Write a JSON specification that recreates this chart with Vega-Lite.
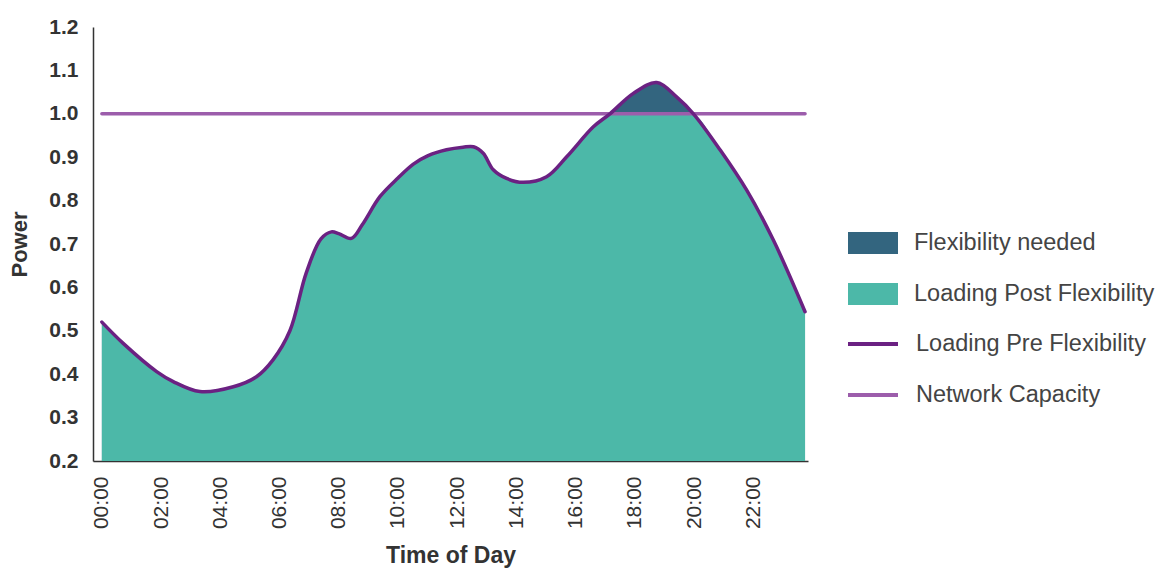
{
  "$schema": "https://vega.github.io/schema/vega-lite/v6.json",
  "autosize": "none",
  "width": 715,
  "height": 434,
  "padding": {"left": 93, "top": 27, "right": 354, "bottom": 108},
  "background": "white",
  "config": {
    "view": {"stroke": null},
    "font": "Liberation Sans",
    "axis": {"grid": false, "ticks": false, "tickSize": 0, "domainColor": "#333333", "domainWidth": 1.5, "labelColor": "#333333", "titleColor": "#333333", "labelFont": "Liberation Sans", "titleFont": "Liberation Sans"},
    "legend": {"labelFont": "Liberation Sans", "labelFontSize": 23.5, "labelColor": "#444444", "labelLimit": 400, "padding": 0, "rowPadding": 14, "labelOffset": 16, "symbolSize": 2500}
  },
  "datasets": {
    "load": [
      {"hour": 0, "pre": 0.52, "post": 0.52},
      {"hour": 0.72, "pre": 0.471, "post": 0.471},
      {"hour": 1.85, "pre": 0.406, "post": 0.406},
      {"hour": 2.41, "pre": 0.383, "post": 0.383},
      {"hour": 3.31, "pre": 0.36, "post": 0.36},
      {"hour": 4.44, "pre": 0.371, "post": 0.371},
      {"hour": 5.22, "pre": 0.394, "post": 0.394},
      {"hour": 5.78, "pre": 0.433, "post": 0.433},
      {"hour": 6.35, "pre": 0.5, "post": 0.5},
      {"hour": 6.9, "pre": 0.633, "post": 0.633},
      {"hour": 7.4, "pre": 0.712, "post": 0.712},
      {"hour": 7.75, "pre": 0.728, "post": 0.728},
      {"hour": 8.0, "pre": 0.724, "post": 0.724},
      {"hour": 8.43, "pre": 0.713, "post": 0.713},
      {"hour": 8.8, "pre": 0.745, "post": 0.745},
      {"hour": 9.39, "pre": 0.809, "post": 0.809},
      {"hour": 10.0, "pre": 0.852, "post": 0.852},
      {"hour": 10.52, "pre": 0.884, "post": 0.884},
      {"hour": 11.0, "pre": 0.903, "post": 0.903},
      {"hour": 11.64, "pre": 0.917, "post": 0.917},
      {"hour": 12.2, "pre": 0.923, "post": 0.923},
      {"hour": 12.55, "pre": 0.924, "post": 0.924},
      {"hour": 12.88, "pre": 0.909, "post": 0.909},
      {"hour": 13.22, "pre": 0.871, "post": 0.871},
      {"hour": 13.67, "pre": 0.851, "post": 0.851},
      {"hour": 14.23, "pre": 0.842, "post": 0.842},
      {"hour": 15.02, "pre": 0.855, "post": 0.855},
      {"hour": 15.7, "pre": 0.901, "post": 0.901},
      {"hour": 16.6, "pre": 0.97, "post": 0.97},
      {"hour": 17.16, "pre": 1.0, "post": 1.0},
      {"hour": 17.95, "pre": 1.047, "post": 1.0},
      {"hour": 18.74, "pre": 1.072, "post": 1.0},
      {"hour": 19.41, "pre": 1.039, "post": 1.0},
      {"hour": 19.98, "pre": 1.0, "post": 1.0},
      {"hour": 20.88, "pre": 0.917, "post": 0.917},
      {"hour": 21.78, "pre": 0.824, "post": 0.824},
      {"hour": 22.68, "pre": 0.709, "post": 0.709},
      {"hour": 23.75, "pre": 0.544, "post": 0.544}
    ],
    "capacity": [
      {"start": 0, "end": 23.75, "cap": 1.0}
    ]
  },
  "layer": [
    {
      "data": {"name": "load"},
      "mark": {"type": "area", "interpolate": "catmull-rom"},
      "encoding": {
        "x": {"field": "hour", "type": "quantitative", "scale": {"domain": [-0.3, 23.85], "nice": false, "zero": false},
          "axis": {"values": [0, 2, 4, 6, 8, 10, 12, 14, 16, 18, 20, 22], "labelExpr": "(datum.value < 10 ? '0' : '') + datum.value + ':00'", "labelAngle": 270, "labelFontSize": 21, "labelPadding": 15, "title": "Time of Day", "titleFontSize": 23, "titleFontWeight": "bold", "titlePadding": 16}},
        "y": {"field": "pre", "type": "quantitative", "scale": {"domain": [0.2, 1.2], "nice": false, "zero": false},
          "axis": {"values": [0.2, 0.3, 0.4, 0.5, 0.6, 0.7, 0.8, 0.9, 1.0, 1.1, 1.2], "format": ".1f", "labelFontSize": 21, "labelFontWeight": "bold", "labelPadding": 15, "title": "Power", "titleFontSize": 22, "titleFontWeight": "bold", "titlePadding": 17}},
        "y2": {"datum": 0.2},
        "fill": {"datum": "Flexibility needed", "type": "nominal",
          "scale": {"domain": ["Flexibility needed", "Loading Post Flexibility"], "range": ["#33657F", "#4CB8A8"]},
          "legend": {"title": null, "orient": "none", "legendX": 755, "legendY": 191, "symbolType": "M-1,-0.44H1V0.44H-1Z", "symbolStrokeWidth": 0, "symbolOpacity": 1}}
      }
    },
    {
      "data": {"name": "load"},
      "mark": {"type": "area", "interpolate": "catmull-rom"},
      "encoding": {
        "x": {"field": "hour", "type": "quantitative"},
        "y": {"field": "post", "type": "quantitative"},
        "y2": {"datum": 0.2},
        "fill": {"datum": "Loading Post Flexibility", "type": "nominal"}
      }
    },
    {
      "data": {"name": "capacity"},
      "mark": {"type": "rule", "strokeWidth": 3.5, "strokeCap": "round"},
      "encoding": {
        "x": {"field": "start", "type": "quantitative"},
        "x2": {"field": "end"},
        "y": {"field": "cap", "type": "quantitative"},
        "stroke": {"datum": "Network Capacity", "type": "nominal",
          "scale": {"domain": ["Loading Pre Flexibility", "Network Capacity"], "range": ["#6B2182", "#9C5DAB"]},
          "legend": {"title": null, "orient": "none", "legendX": 753, "legendY": 290, "symbolType": "stroke", "symbolStrokeWidth": 4, "rowPadding": 12}}
      }
    },
    {
      "data": {"name": "load"},
      "mark": {"type": "line", "interpolate": "catmull-rom", "strokeWidth": 3.5, "strokeCap": "round"},
      "encoding": {
        "x": {"field": "hour", "type": "quantitative"},
        "y": {"field": "pre", "type": "quantitative"},
        "stroke": {"datum": "Loading Pre Flexibility", "type": "nominal"}
      }
    }
  ]
}
